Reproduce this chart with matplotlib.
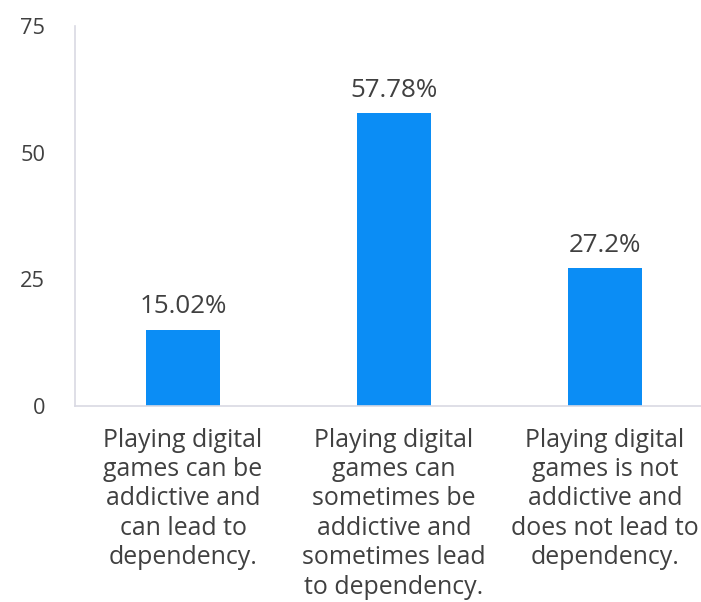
import matplotlib
matplotlib.use("Agg")
import matplotlib.pyplot as plt

categories = [
    "Playing digital\ngames can be\naddictive and\ncan lead to\ndependency.",
    "Playing digital\ngames can\nsometimes be\naddictive and\nsometimes lead\nto dependency.",
    "Playing digital\ngames is not\naddictive and\ndoes not lead to\ndependency.",
]
values = [15.02, 57.78, 27.2]
value_labels = ["15.02%", "57.78%", "27.2%"]
yticks = [0, 25, 50, 75]

plt.rcParams['font.family'] = ['Open Sans', 'DejaVu Sans']
text_color = '#404040'

fig = plt.figure(figsize=(7.01, 6.02), dpi=100)
renderer = fig.canvas.get_renderer()


def size_for(text, target_px, base=15):
    t = fig.text(0, 0, text, fontsize=base)
    w = t.get_window_extent(renderer).width
    t.remove()
    return base * target_px / w


def spacing_for(fs, target_px, base_ls=1.2):
    t1 = fig.text(0, 0, "Ag", fontsize=fs, linespacing=base_ls)
    t2 = fig.text(0, 0, "Ag\nAg", fontsize=fs, linespacing=base_ls)
    d = t2.get_window_extent(renderer).height - t1.get_window_extent(renderer).height
    t1.remove()
    t2.remove()
    return base_ls * target_px / d


cat_fs = size_for("Playing digital", 160)
val_fs = size_for("57.78%", 88)
tick_fs = size_for("75", 25)
cat_ls = spacing_for(cat_fs, 29.6)

ax = fig.add_axes([75/701, 196/602, 626/701, 380/602])
x = list(range(len(categories)))
ax.bar(x, values, width=0.355, color='#0b8df5')
for xi, v, lab in zip(x, values, value_labels):
    ax.annotate(lab, (xi, v), xytext=(0, 7.5), textcoords='offset points',
                ha='center', va='bottom', fontsize=val_fs, color=text_color)

ax.set_xlim(-0.512, 2.455)
ax.set_ylim(0, 75)
ax.set_yticks(yticks)
ax.set_yticklabels([str(t) for t in yticks], fontsize=tick_fs, color=text_color)
ax.set_xticks(x)
ax.set_xticklabels(categories, fontsize=cat_fs, color=text_color, linespacing=cat_ls)
ax.tick_params(axis='y', length=0, pad=21.5)
ax.tick_params(axis='x', length=0, pad=15.5)
for s in ['top', 'right']:
    ax.spines[s].set_visible(False)
for s in ['left', 'bottom']:
    ax.spines[s].set_color('#d9d9e3')
    ax.spines[s].set_linewidth(1.2)

fig.savefig('out.png', dpi=100)
